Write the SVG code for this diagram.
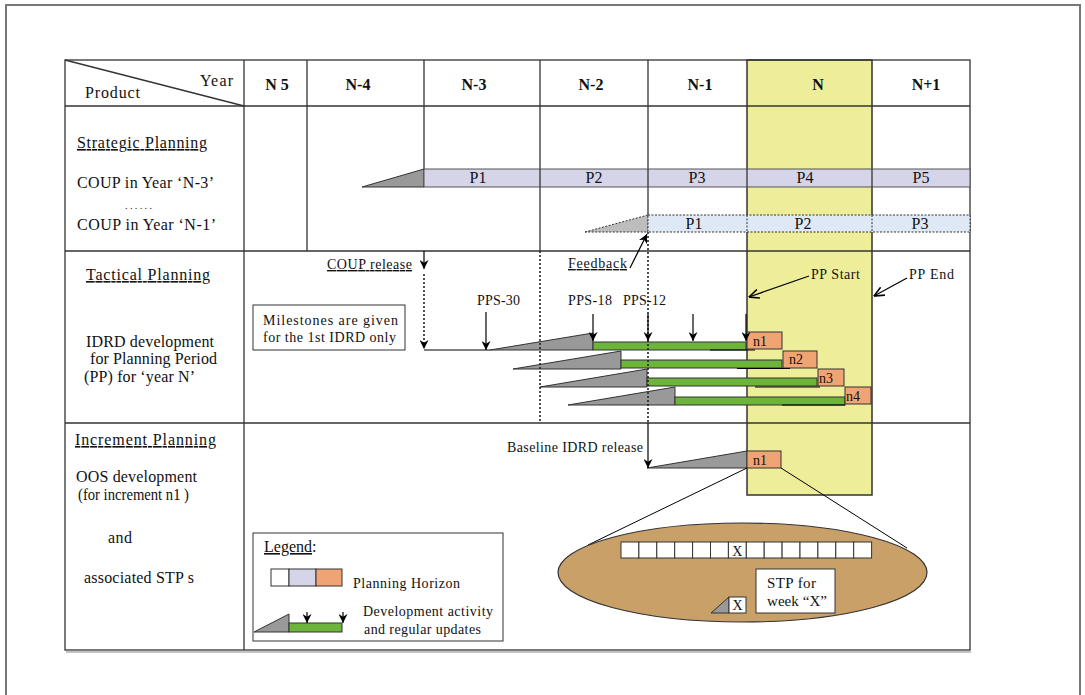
<svg xmlns="http://www.w3.org/2000/svg" width="1085" height="695" viewBox="0 0 1085 695">
<defs>
<style>
text{font-family:"Liberation Serif","Times New Roman",serif;fill:#111;}
.f16{font-size:16px}
.f15{font-size:15px}
.f14{font-size:14px}
.b{font-weight:bold;font-size:16px;text-anchor:middle}
.u{text-decoration:underline}
.mid{text-anchor:middle}
.grid{stroke:#333;stroke-width:1.3;fill:none}
.dot{stroke:#222;stroke-width:1.6;stroke-dasharray:2,2;fill:none}
.arr{stroke:#000;stroke-width:1.2;fill:none;marker-end:url(#ah)}
.oarr{stroke:#000;stroke-width:1.2;fill:none;marker-end:url(#oa)}
.tri{fill:#999;stroke:#333;stroke-width:1}
.grn{fill:#6cb43a;stroke:#333;stroke-width:1}
.org{fill:#f0a474;stroke:#333;stroke-width:1}
.wbox{fill:#fff;stroke:#333;stroke-width:1}
.thin{stroke:#000;stroke-width:1;fill:none}
</style>
<marker id="ah" viewBox="0 0 10 10" refX="10" refY="5" markerWidth="10" markerHeight="9" orient="auto" markerUnits="userSpaceOnUse">
<path d="M0,0 L10,5 L0,10 L3,5 z" fill="#000"/>
</marker>
<marker id="oa" viewBox="0 0 10 10" refX="10" refY="5" markerWidth="11" markerHeight="10" orient="auto" markerUnits="userSpaceOnUse">
<path d="M0,0.5 L10,5 L0,9.5" fill="none" stroke="#000" stroke-width="1.6"/>
</marker>
</defs>
<rect width="1085" height="695" fill="#fff"/>
<path d="M6,700 V5 H1080 V700" fill="none" stroke="#777" stroke-width="2"/>

<g id="table">
<rect x="747" y="60" width="125" height="435" fill="#eded9a" stroke="#333" stroke-width="1.5"/>
<rect x="65" y="60" width="905" height="590" class="grid" stroke-width="1.6"/>
<line x1="66" y1="652" x2="971" y2="652" stroke="#888" stroke-width="1.2"/>
<line x1="65" y1="106" x2="970" y2="106" class="grid"/>
<line x1="65" y1="251" x2="970" y2="251" class="grid"/>
<line x1="65" y1="423" x2="970" y2="423" class="grid"/>
<line x1="244" y1="60" x2="244" y2="650" class="grid"/>
<line x1="307" y1="60" x2="307" y2="251" class="grid"/>
<line x1="424" y1="60" x2="424" y2="169" class="grid"/>
<line x1="540" y1="60" x2="540" y2="251" class="grid"/>
<line x1="648" y1="60" x2="648" y2="215" class="grid"/>
<line x1="65" y1="60" x2="244" y2="106" class="grid"/>
<text x="85" y="98" class="f16" textLength="55">Product</text>
<text x="200" y="86" class="f16" textLength="33">Year</text>
<text x="277" y="90" class="b">N 5</text>
<text x="358" y="90" class="b">N-4</text>
<text x="474" y="90" class="b">N-3</text>
<text x="591" y="90" class="b">N-2</text>
<text x="700" y="90" class="b">N-1</text>
<text x="818" y="90" class="b">N</text>
<text x="926" y="90" class="b">N+1</text>
</g>

<g id="row-labels">
<text x="77" y="148" class="f16 u" textLength="130">Strategic Planning</text>
<text x="77" y="188" class="f16" textLength="137">COUP in Year ‘N-3’</text>
<text x="125" y="209" font-size="10" textLength="27">......</text>
<text x="77" y="230" class="f16" textLength="139">COUP in Year ‘N-1’</text>
<text x="86" y="280" class="f16 u" textLength="124">Tactical Planning</text>
<text x="86" y="347" class="f16" textLength="128">IDRD development</text>
<text x="90" y="364" class="f16" textLength="127">for Planning Period</text>
<text x="84" y="382" class="f16" textLength="111">(PP) for ‘year N’</text>
<text x="75" y="445" class="f16 u" textLength="141">Increment Planning</text>
<text x="76" y="482" class="f16" textLength="121">OOS development</text>
<text x="78" y="500" class="f16" textLength="111" lengthAdjust="spacingAndGlyphs">(for increment n1 )</text>
<text x="108" y="543" class="f16" textLength="24">and</text>
<text x="84" y="583" class="f16" textLength="110">associated STP s</text>
</g>

<g id="coup-n3">
<polygon points="362,187 424,169 424,187" class="tri"/>
<rect x="424" y="169" width="546" height="18" fill="#d5d4e8" stroke="#555" stroke-width="1"/>
<line x1="540" y1="169" x2="540" y2="187" class="grid"/>
<line x1="648" y1="169" x2="648" y2="187" class="grid"/>
<line x1="747" y1="169" x2="747" y2="187" class="grid"/>
<line x1="872" y1="169" x2="872" y2="187" class="grid"/>
<text x="478" y="183" class="f16 mid">P1</text>
<text x="594" y="183" class="f16 mid">P2</text>
<text x="697" y="183" class="f16 mid">P3</text>
<text x="805" y="183" class="f16 mid">P4</text>
<text x="921" y="183" class="f16 mid">P5</text>
</g>

<g id="coup-n1">
<polygon points="585,232 648,215 648,232" fill="#bdbdbd" stroke="#333" stroke-width="1" stroke-dasharray="2,1.5"/>
<rect x="648" y="215" width="322" height="17" fill="#dfe9f5" stroke="#333" stroke-width="1" stroke-dasharray="2,1.5"/>
<line x1="747" y1="215" x2="747" y2="232" stroke="#333" stroke-dasharray="2,1.5"/>
<line x1="872" y1="215" x2="872" y2="232" stroke="#333" stroke-dasharray="2,1.5"/>
<text x="694" y="229" class="f16 mid">P1</text>
<text x="803" y="229" class="f16 mid">P2</text>
<text x="920" y="229" class="f16 mid">P3</text>
</g>

<g id="milestones-note">
<rect x="253" y="305" width="152" height="45" class="wbox"/>
<text x="263" y="325" class="f14" textLength="135">Milestones are given</text>
<text x="263" y="342" class="f14" textLength="133">for the 1st IDRD only</text>
</g>

<g id="idrd-1">
<polygon points="490,350 593,333 593,350" class="tri"/>
<rect x="593" y="342" width="153" height="8" class="grn"/>
<rect x="747" y="332" width="35" height="17" class="org"/>
<text x="753" y="346" class="f14">n1</text>
</g>
<g id="idrd-2">
<polygon points="513,369 621,351 621,369" class="tri"/>
<rect x="621" y="360" width="161" height="8" class="grn"/>
<rect x="783" y="351" width="34" height="17" class="org"/>
<text x="789" y="364" class="f14">n2</text>
</g>
<g id="idrd-3">
<polygon points="540,387 647,369 647,387" class="tri"/>
<rect x="647" y="378" width="170" height="8" class="grn"/>
<rect x="818" y="369" width="26" height="17" class="org"/>
<text x="819" y="383" class="f14">n3</text>
</g>
<g id="idrd-4">
<polygon points="568,405 675,387 675,405" class="tri"/>
<rect x="675" y="397" width="170" height="8" class="grn"/>
<rect x="845" y="387" width="26" height="17" class="org"/>
<text x="846" y="401" class="f14">n4</text>
</g>

<g id="increment-n1">
<polygon points="647,468 747,451 747,468" class="tri"/>
<rect x="747" y="451" width="34" height="17" class="org"/>
<text x="753" y="465" class="f14">n1</text>
</g>

<g id="zoom-ellipse">
<line x1="747" y1="468" x2="588" y2="545" class="thin"/>
<line x1="781" y1="468" x2="907" y2="548" class="thin"/>
<ellipse cx="742.5" cy="572.5" rx="184.5" ry="49.5" fill="#c8a068" stroke="#333" stroke-width="1.2"/>
<g class="wbox">
<rect x="621" y="542" width="17.9" height="16"/>
<rect x="638.9" y="542" width="17.9" height="16"/>
<rect x="656.8" y="542" width="17.9" height="16"/>
<rect x="674.7" y="542" width="17.9" height="16"/>
<rect x="692.6" y="542" width="17.9" height="16"/>
<rect x="710.5" y="542" width="17.9" height="16"/>
<rect x="728.4" y="542" width="17.9" height="16"/>
<rect x="746.3" y="542" width="17.9" height="16"/>
<rect x="764.2" y="542" width="17.9" height="16"/>
<rect x="782.1" y="542" width="17.9" height="16"/>
<rect x="800" y="542" width="17.9" height="16"/>
<rect x="817.9" y="542" width="17.9" height="16"/>
<rect x="835.8" y="542" width="17.9" height="16"/>
<rect x="853.7" y="542" width="17.9" height="16"/>
</g>
<text x="737.4" y="556" class="f14 mid">X</text>
<rect x="756" y="569" width="79" height="44" class="wbox"/>
<text x="767" y="588" class="f15" textLength="49">STP for</text>
<text x="767" y="606" class="f15" textLength="60">week “X”</text>
<polygon points="711,613 729,597 729,613" class="tri"/>
<rect x="729" y="597" width="17" height="16" class="wbox"/>
<text x="737.5" y="610" class="f14 mid">X</text>
</g>

<g id="legend">
<rect x="253" y="533" width="250" height="108" class="wbox"/>
<text x="264" y="552" class="f16"><tspan class="u">Legend</tspan>:</text>
<rect x="271" y="569" width="18" height="17" class="wbox"/>
<rect x="289" y="569" width="27" height="17" fill="#d5d4e8" stroke="#333"/>
<rect x="316" y="569" width="26" height="17" class="org"/>
<text x="353" y="588" class="f14" textLength="107">Planning Horizon</text>
<polygon points="254,632 289,614 289,632" class="tri"/>
<rect x="289" y="623" width="53" height="9" class="grn"/>
<line x1="307" y1="612" x2="307" y2="623" class="arr"/>
<line x1="343" y1="612" x2="343" y2="623" class="arr"/>
<text x="363" y="616" class="f14" textLength="130">Development activity</text>
<text x="364" y="634" class="f14" textLength="117">and regular updates</text>
</g>

<g id="annotations">
<text x="327" y="269" class="f14 u" textLength="85">COUP release</text>
<text x="568" y="268" class="f14 u" textLength="59">Feedback</text>
<text x="477" y="305" class="f14" textLength="43">PPS-30</text>
<text x="568" y="305" class="f14" textLength="44">PPS-18</text>
<text x="623" y="305" class="f14" textLength="43">PPS-12</text>
<text x="811" y="279" class="f14" textLength="49">PP Start</text>
<text x="909" y="279" class="f14" textLength="45">PP End</text>
<text x="507" y="452" class="f14" textLength="136">Baseline IDRD release</text>
</g>

<g id="connectors">
<line x1="540" y1="251" x2="540" y2="423" class="dot"/>
<line x1="648" y1="232" x2="648" y2="423" class="dot"/>
<line x1="630" y1="268" x2="647" y2="234" class="arr"/>
<line x1="424" y1="251" x2="424" y2="269" class="arr"/>
<line x1="424" y1="274" x2="424" y2="349" class="dot" marker-end="url(#ah)"/>
<line x1="424" y1="350" x2="490" y2="350" class="thin"/>
<line x1="486" y1="312" x2="486" y2="350" class="arr"/>
<line x1="593" y1="314" x2="593" y2="341" class="arr"/>
<line x1="648" y1="314" x2="648" y2="341" class="arr"/>
<line x1="693" y1="314" x2="693" y2="341" class="arr"/>
<line x1="746" y1="314" x2="746" y2="341" class="arr"/>
<line x1="710" y1="350" x2="755" y2="350" class="thin"/>
<line x1="737" y1="368.5" x2="790" y2="368.5" class="thin"/>
<line x1="755" y1="387" x2="820" y2="387" class="thin"/>
<line x1="782" y1="405" x2="845" y2="405" class="thin"/>
<line x1="809" y1="276" x2="749" y2="297" class="oarr"/>
<line x1="907" y1="278" x2="874" y2="296" class="oarr"/>
<line x1="648" y1="423" x2="648" y2="468" class="arr"/>
</g>
</svg>
